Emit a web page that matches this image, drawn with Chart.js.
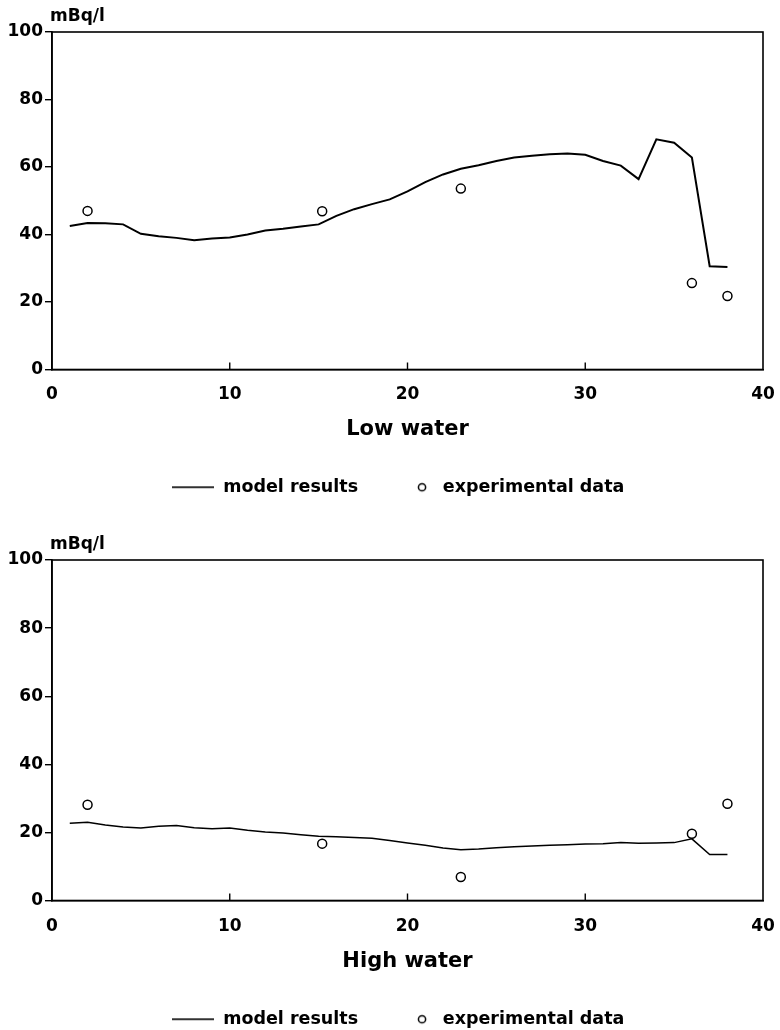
<!DOCTYPE html>
<html>
<head>
<meta charset="utf-8">
<script src="https://cdn.jsdelivr.net/npm/chart.js@4/dist/chart.umd.min.js"></script>
<style>
  html, body { margin: 0; padding: 0; background: #fff; overflow: hidden; width: 780px; height: 1030px; }
  canvas { position: absolute; left: 0; }
  #c1 { top: 0; }
  #c2 { top: 528px; }
</style>
</head>
<body>
<canvas id="c1" width="780" height="506"></canvas>
<canvas id="c2" width="780" height="510"></canvas>
<script>
// ---- data ----
const xModel = [1,2,3,4,5,6,7,8,9,10,11,12,13,14,15,16,17,18,19,20,21,22,23,24,25,26,27,28,29,30,31,32,33,34,35,36,37,38];
const lowModel = [42.5,43.4,43.3,43.0,40.2,39.5,39.0,38.3,38.8,39.1,40.0,41.2,41.7,42.4,43.0,45.5,47.5,49.0,50.4,52.8,55.5,57.8,59.5,60.5,61.8,62.8,63.3,63.8,64.0,63.6,61.8,60.4,56.4,68.2,67.2,62.8,30.6,30.4];
const highModel = [22.7,23.0,22.2,21.6,21.3,21.8,22.0,21.4,21.1,21.3,20.6,20.1,19.8,19.3,18.9,18.7,18.5,18.3,17.6,16.9,16.2,15.4,14.9,15.1,15.5,15.8,16.0,16.2,16.4,16.6,16.7,17.0,16.8,16.9,17.0,18.1,13.5,13.5];
const xExp = [2, 15.2, 23, 36, 38];
const lowExp = [47.0, 46.9, 53.6, 25.6, 21.8];
const highExp = [28.1, 16.7, 6.9, 19.6, 28.4];
const xTicks = [0, 10, 20, 30, 40];
const yTicks = [0, 20, 40, 60, 80, 100];
const unitLabel = 'mBq/l';
const titles = ['Low water', 'High water'];
const legendLabels = ['model results', 'experimental data'];

const FONT = '"DejaVu Sans", "Liberation Sans", sans-serif';

// legend sample images
function makeLineImg() {
  const c = document.createElement('canvas');
  c.width = 42; c.height = 4;
  const g = c.getContext('2d');
  g.fillStyle = '#000';
  g.fillRect(0, 1.2, 42, 1.6);
  return c;
}
function makeCircleImg() {
  const c = document.createElement('canvas');
  c.width = 42; c.height = 12;
  const g = c.getContext('2d');
  g.strokeStyle = '#000';
  g.lineWidth = 1.5;
  g.beginPath();
  g.arc(30, 6, 3.6, 0, Math.PI * 2);
  g.stroke();
  return c;
}
const lineImg = makeLineImg();
const circImg = makeCircleImg();

const framePlugin = {
  id: 'frame',
  afterDraw(chart) {
    const ctx = chart.ctx;
    const a = chart.chartArea;
    ctx.save();
    ctx.strokeStyle = '#000';
    ctx.lineWidth = 1.6;
    ctx.strokeRect(a.left, a.top, a.right - a.left, a.bottom - a.top);
    // inward x tick marks
    const xs = chart.scales.x;
    ctx.lineWidth = 1.4;
    xTicks.forEach(v => {
      if (v === xs.min || v === xs.max) return;
      const px = xs.getPixelForValue(v);
      ctx.beginPath();
      ctx.moveTo(px, a.bottom);
      ctx.lineTo(px, a.bottom - 7);
      ctx.stroke();
    });
    // unit label
    ctx.fillStyle = '#000';
    ctx.font = 'bold 17px ' + FONT;
    ctx.textAlign = 'left';
    ctx.textBaseline = 'alphabetic';
    ctx.fillText(unitLabel, a.left - 2, a.top - 11);
    ctx.restore();
  }
};

function makeChart(id, modelVals, expVals, title, cfg) {
  const lineData = xModel.map((x, i) => ({x, y: modelVals[i]}));
  const expData = xExp.map((x, i) => ({x, y: expVals[i]}));
  return new Chart(document.getElementById(id), {
    type: 'scatter',
    data: {
      datasets: [
        {
          label: legendLabels[0],
          data: lineData,
          showLine: true,
          borderColor: '#000',
          borderWidth: cfg.lw,
          pointRadius: 0,
          tension: 0,
          fill: false
        },
        {
          label: legendLabels[1],
          data: expData,
          showLine: false,
          pointStyle: 'circle',
          pointRadius: 4.5,
          borderWidth: 1.5,
          borderColor: '#000',
          backgroundColor: '#fff'
        }
      ]
    },
    options: {
      responsive: false,
      animation: false,
      devicePixelRatio: 1,
      layout: { padding: { top: 32, right: 17, left: 0, bottom: 0 } },
      plugins: {
        tooltip: { enabled: false },
        title: { display: false },
        legend: {
          display: true,
          position: 'bottom',
          fullSize: false,
          labels: {
            usePointStyle: true,
            pointStyleWidth: 42,
            padding: 34,
            color: '#000',
            font: { family: FONT, size: 17.5, weight: 'bold' },
            generateLabels: () => [
              { text: legendLabels[0], pointStyle: lineImg, fillStyle: '#000', strokeStyle: '#000', lineWidth: 0, hidden: false, datasetIndex: 0, fontColor: '#000' },
              { text: legendLabels[1] + '   ', pointStyle: circImg, fillStyle: '#fff', strokeStyle: '#000', lineWidth: 0, hidden: false, datasetIndex: 1, fontColor: '#000' }
            ]
          }
        }
      },
      scales: {
        x: {
          type: 'linear',
          min: 0, max: 40,
          afterBuildTicks: s => { s.ticks = xTicks.map(v => ({value: v})); },
          afterFit: s => { s.height = cfg.xh; s.paddingLeft = 0; s.paddingRight = 0; },
          border: { display: true, color: '#000', width: 1.6 },
          grid: { display: false, drawTicks: false },
          ticks: {
            color: '#000',
            padding: cfg.tkpad,
            maxRotation: 0,
            font: { family: FONT, size: 17, weight: 'bold' }
          },
          title: {
            display: true,
            text: title,
            color: '#000',
            padding: { top: 0, bottom: cfg.tpad },
            font: { family: FONT, size: 21, weight: 'bold' }
          }
        },
        y: {
          type: 'linear',
          min: 0, max: 100,
          afterBuildTicks: s => { s.ticks = yTicks.map(v => ({value: v})); },
          afterFit: s => { s.width = 52; s.paddingTop = 0; s.paddingBottom = 0; },
          border: { display: true, color: '#000', width: 1.6 },
          grid: { display: true, drawOnChartArea: false, drawTicks: true, tickLength: 7, color: '#000', lineWidth: 1.4 },
          ticks: {
            color: '#000',
            padding: 2,
            font: { family: FONT, size: 17, weight: 'bold' }
          }
        }
      }
    },
    plugins: [framePlugin]
  });
}

makeChart('c1', lowModel, lowExp, titles[0], { lw: 2, xh: 75, tpad: 2, tkpad: 15 });
makeChart('c2', highModel, highExp, titles[1], { lw: 1.5, xh: 76, tpad: 2, tkpad: 16 });
</script>
</body>
</html>
